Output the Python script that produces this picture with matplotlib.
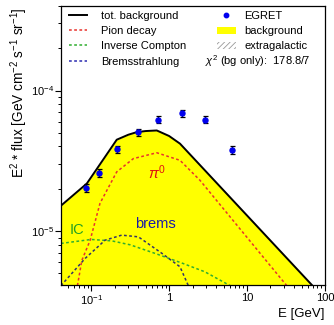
"""EGRET diffuse gamma spectrum vs. background components (matplotlib -> out.png)."""

import matplotlib
matplotlib.use("Agg")
import matplotlib.pyplot as plt
from matplotlib.lines import Line2D
from matplotlib.patches import Patch

plt.rcParams["font.family"] = ["Liberation Sans", "DejaVu Sans"]
plt.rcParams["mathtext.fontset"] = "custom"
plt.rcParams["mathtext.rm"] = "Liberation Sans"
plt.rcParams["mathtext.it"] = "Liberation Sans:italic"
plt.rcParams["hatch.color"] = "#999999"
plt.rcParams["hatch.linewidth"] = 0.6

# EGRET data points (E in GeV, E^2 * flux)
egret_e = [0.086, 0.126, 0.215, 0.397, 0.716, 1.46, 2.9, 6.43]
egret_flux = [2.02e-5, 2.59e-5, 3.82e-5, 5.06e-5, 6.19e-5, 6.9e-5, 6.19e-5, 3.8e-5]
egret_err = [1.3e-6, 1.7e-6, 2.3e-6, 3.0e-6, 3.6e-6, 4.0e-6, 3.6e-6, 2.4e-6]

# total background
tot_e = [0.04, 0.088, 0.15, 0.213, 0.30, 0.385, 0.5, 0.695, 1.0, 1.38, 72]
tot_flux = [1.5e-5, 2.18e-5, 3.36e-5, 4.47e-5, 4.85e-5, 5.06e-5, 5.15e-5, 5.2e-5, 4.75e-5, 4.19e-5, 4.0e-6]

# pion decay
pi_e = [0.0667, 0.076, 0.097, 0.13, 0.213, 0.348, 0.695, 1.38, 2.49, 32.3]
pi_flux = [4.1e-6, 6.2e-6, 8.6e-6, 1.58e-5, 2.64e-5, 3.28e-5, 3.61e-5, 3.19e-5, 2.3e-5, 4.1e-6]

# inverse Compton
ic_e = [0.041, 0.1, 0.184, 0.316, 0.66, 1.5, 2.88, 6.05]
ic_flux = [8.18e-6, 8.73e-6, 8.53e-6, 8.0e-6, 6.95e-6, 5.9e-6, 5.14e-6, 4.1e-6]

# bremsstrahlung
br_e = [0.041, 0.0838, 0.151, 0.247, 0.404, 0.81, 1.38, 1.8]
br_flux = [4.1e-6, 6.4e-6, 8.63e-6, 9.37e-6, 9.11e-6, 6.95e-6, 5.58e-6, 4.0e-6]

chi2_text = r"$\chi^2$ (bg only):  178.8/7"

x_ticks = [0.1, 1, 10, 100]
x_ticklabels = [r"$10^{-1}$", "1", "10", "100"]
y_ticks = [1e-5, 1e-4]
y_ticklabels = [r"$10^{-5}$", r"$10^{-4}$"]

YMIN, YMAX = 4.14e-6, 4.0e-4
XMIN, XMAX = 0.0412, 100

RED = "#e8322c"
GREEN = "#2fae2f"
BLUE = "#2b2bb0"
DOT = (0, (1.8, 1.6))

fig = plt.figure(figsize=(3.34, 3.25), dpi=100)
ax = fig.add_axes([0.183, 0.123, 0.790, 0.859])

ax.set_xscale("log")
ax.set_yscale("log")
ax.set_xlim(XMIN, XMAX)
ax.set_ylim(YMIN, YMAX)

# background fill + total line
ax.fill_between(tot_e, tot_flux, YMIN / 2, color="#ffff00", lw=0, zorder=1)
ax.plot(tot_e, tot_flux, color="black", lw=1.4, zorder=3)

# components
ax.plot(pi_e, pi_flux, color=RED, lw=1.1, ls=DOT, zorder=2)
ax.plot(ic_e, ic_flux, color=GREEN, lw=1.1, ls=DOT, zorder=2)
ax.plot(br_e, br_flux, color="#333366", lw=1.1, ls=DOT, zorder=2)

# EGRET
ax.errorbar(egret_e, egret_flux, yerr=egret_err, fmt="o", color="#0000ee",
            ecolor="black", elinewidth=0.9, capsize=1.8, capthick=0.9,
            markersize=3.6, zorder=4)

# curve labels
ax.text(0.70, 2.6e-5, r"$\pi^0$", color="#e01010", fontsize=10.5, ha="center", va="center")
ax.text(0.66, 1.12e-5, "brems", color="#1a1aa8", fontsize=10.5, ha="center", va="center")
ax.text(0.066, 1.02e-5, "IC", color="#22a022", fontsize=10.5, ha="center", va="center")

# axes styling
ax.set_xticks(x_ticks)
ax.set_xticklabels(x_ticklabels)
ax.set_yticks(y_ticks)
ax.set_yticklabels(y_ticklabels)
ax.tick_params(which="major", direction="out", length=4, width=0.8, labelsize=8, pad=2)
ax.tick_params(axis="y", which="major", pad=1.2)
ax.tick_params(which="minor", direction="out", length=2.2, width=0.7)
for s in ax.spines.values():
    s.set_linewidth(0.9)

ax.set_ylabel(r"E$^{2}$ * flux [GeV cm$^{-2}$ s$^{-1}$ sr$^{-1}$]", fontsize=9.8)
ax.yaxis.set_label_coords(-0.118, 0.69)
ax.set_xlabel("E [GeV]", fontsize=9.5, ha="right")
ax.xaxis.set_label_coords(1.0, -0.082)

# legends
left_handles = [
    Line2D([], [], color="black", lw=1.4),
    Line2D([], [], color=RED, lw=1.1, ls=DOT),
    Line2D([], [], color=GREEN, lw=1.1, ls=DOT),
    Line2D([], [], color=BLUE, lw=1.1, ls=DOT),
]
left_labels = ["tot. background", "Pion decay", "Inverse Compton", "Bremsstrahlung"]
leg1 = ax.legend(left_handles, left_labels, loc="upper left", bbox_to_anchor=(0.03, 0.982),
                 frameon=False, fontsize=8, handlelength=1.6, handletextpad=1.25,
                 labelspacing=0.47, borderpad=0, borderaxespad=0)
ax.add_artist(leg1)

right_handles = [
    Line2D([], [], color="#0000ee", marker="o", ls="none", markersize=3.2),
    Patch(facecolor="#ffff00", edgecolor="none"),
    Patch(facecolor="white", edgecolor="#999999", hatch="//////", lw=0),
]
right_labels = ["EGRET", "background", "extragalactic"]
ax.legend(right_handles, right_labels, loc="upper left", bbox_to_anchor=(0.59, 0.982),
          frameon=False, fontsize=8, handlelength=1.7, handleheight=0.6, handletextpad=0.8,
          labelspacing=0.47, borderpad=0, borderaxespad=0)

ax.text(0.545, 0.803, chi2_text, transform=ax.transAxes, fontsize=8, ha="left", va="center")

fig.savefig("out.png", dpi=100)
